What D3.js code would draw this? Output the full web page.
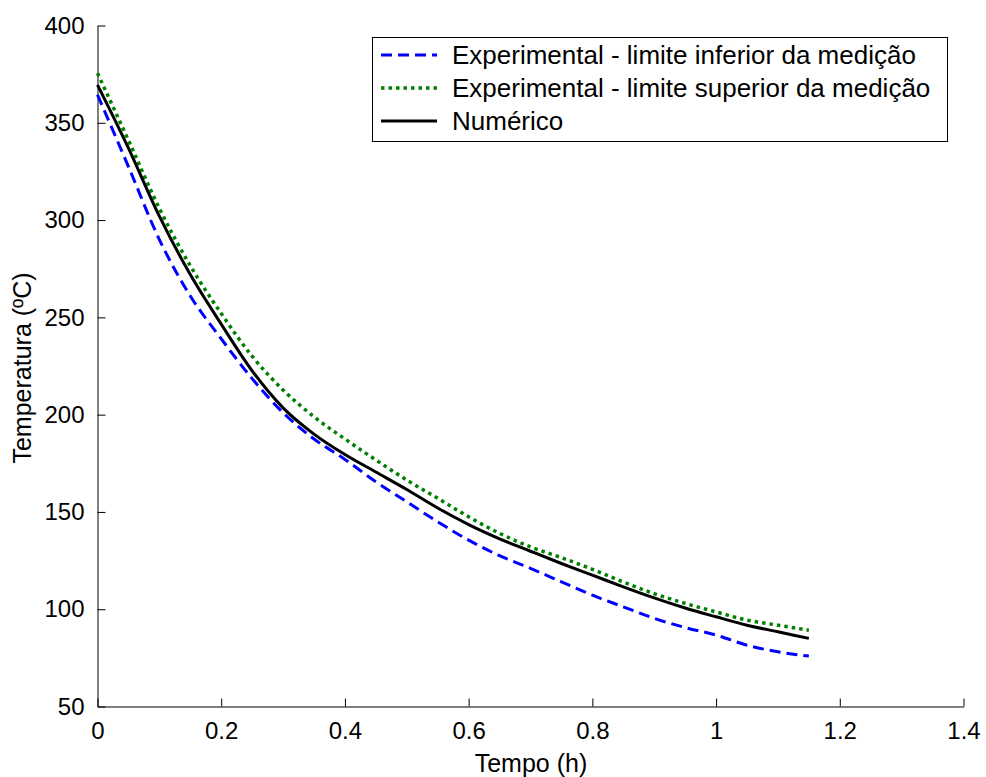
<!DOCTYPE html>
<html>
<head>
<meta charset="utf-8">
<script src="https://cdn.jsdelivr.net/npm/d3@7"></script>
<style>
  body { margin: 0; background: #fff; }
  svg text { font-family: "Liberation Sans", Arial, Helvetica, sans-serif; fill: #000; }
</style>
</head>
<body>
<div id="chart"></div>
<script>
// tempo (h)
var tempo = [0, 0.05, 0.1, 0.15, 0.2, 0.25, 0.3, 0.35, 0.4, 0.45, 0.5, 0.55,
             0.6, 0.65, 0.7, 0.75, 0.8, 0.85, 0.9, 0.95, 1.0, 1.05, 1.1, 1.15];

// temperatura (ºC)
var limiteInferior = [364.4, 327.5, 290, 261, 239, 218.5, 201, 187.5, 177, 165.5, 155.2, 144.9,
                      135.5, 127.5, 121, 114.1, 107.2, 101.2, 95.3, 90.6, 86.7, 81.5, 78.1, 75.9];
var limiteSuperior = [375.5, 341, 306, 276.5, 252, 230, 212.7, 198.9, 187.5, 176.7, 166.4, 157,
                      147.5, 139, 132, 126.5, 120.5, 114, 108, 103, 98.6, 94.4, 91.8, 89.2];
var numerico = [369.5, 337, 302, 272, 246.5, 222.5, 203.5, 190, 179.5, 170.5, 161.5, 152,
                143.5, 136.2, 129.8, 123.5, 117.5, 111.5, 105.8, 100.6, 96.1, 91.8, 88.4, 85];

var xTicks = [0, 0.2, 0.4, 0.6, 0.8, 1, 1.2, 1.4];
var yTicks = [50, 100, 150, 200, 250, 300, 350, 400];

var series = [
  {name: "Experimental - limite inferior da medição", values: limiteInferior,
   color: "#0000ff", width: 3, dash: "11,6"},
  {name: "Experimental - limite superior da medição", values: limiteSuperior,
   color: "#008000", width: 3.5, dash: "3.5,4"},
  {name: "Numérico", values: numerico,
   color: "#000000", width: 3, dash: null}
];

var width = 986, height = 777;

var svg = d3.select("#chart")
  .append("svg")
  .attr("width", width)
  .attr("height", height);

var x = d3.scaleLinear().domain([0, 1.4]).range([97.5, 963.5]);
var y = d3.scaleLinear().domain([50, 400]).range([706.5, 25.5]);

// axes
svg.append("g")
  .attr("transform", "translate(0," + y(50) + ")")
  .call(d3.axisBottom(x)
    .tickValues(xTicks)
    .tickFormat(function(d) { return String(d); })
    .tickSizeInner(-8)
    .tickSizeOuter(0)
    .tickPadding(15));

svg.append("g")
  .attr("transform", "translate(" + x(0) + ",0)")
  .call(d3.axisLeft(y)
    .tickValues(yTicks)
    .tickFormat(d3.format("d"))
    .tickSizeInner(-8)
    .tickSizeOuter(0)
    .tickPadding(13));

svg.selectAll(".tick text")
  .attr("font-size", 24)
  .attr("font-family", "Liberation Sans, Arial, sans-serif");
svg.selectAll(".domain, .tick line")
  .attr("stroke", "#000")
  .attr("stroke-width", 1);

// axis titles
svg.append("text")
  .attr("x", 531)
  .attr("y", 772)
  .attr("text-anchor", "middle")
  .attr("font-size", 25)
  .text("Tempo (h)");

svg.append("text")
  .attr("transform", "translate(31,368) rotate(-90)")
  .attr("text-anchor", "middle")
  .attr("font-size", 25)
  .text("Temperatura (ºC)");

// curves
var line = d3.line()
  .x(function(d, i) { return x(tempo[i]); })
  .y(function(d) { return y(d); })
  .curve(d3.curveMonotoneX);

svg.selectAll(".serie")
  .data(series)
  .enter()
    .append("path")
      .attr("class", "serie")
      .attr("d", function(d) { return line(d.values); })
      .attr("fill", "none")
      .attr("stroke", function(d) { return d.color; })
      .attr("stroke-width", function(d) { return d.width; })
      .attr("stroke-dasharray", function(d) { return d.dash; });

// legend
var legend = svg.append("g").attr("class", "legend");

legend.append("rect")
  .attr("x", 372.5)
  .attr("y", 37.5)
  .attr("width", 575)
  .attr("height", 104)
  .attr("fill", "#fff")
  .attr("stroke", "#000")
  .attr("stroke-width", 1);

var items = legend.selectAll(".item")
  .data(series)
  .enter()
    .append("g")
      .attr("class", "item")
      .attr("transform", function(d, i) { return "translate(0," + (55 + i * 33) + ")"; });

items.append("line")
  .attr("x1", 381)
  .attr("x2", 437)
  .attr("y1", 0)
  .attr("y2", 0)
  .attr("stroke", function(d) { return d.color; })
  .attr("stroke-width", function(d) { return d.width; })
  .attr("stroke-dasharray", function(d) { return d.dash; });

items.append("text")
  .attr("x", 452)
  .attr("y", 9)
  .attr("font-size", 26)
  .text(function(d) { return d.name; });
</script>
</body>
</html>
